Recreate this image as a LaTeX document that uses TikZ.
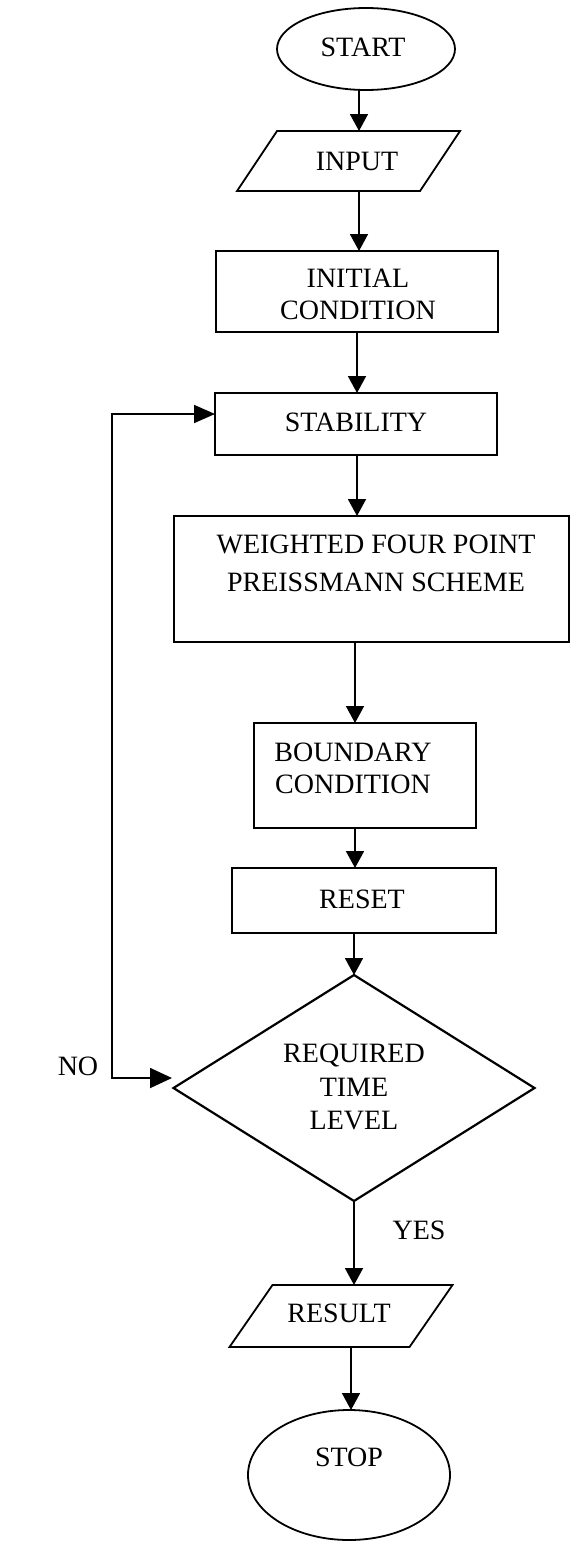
\documentclass[tikz,border=0pt]{standalone}
\usepackage{fontspec}
\setmainfont{Liberation Serif}
\usetikzlibrary{arrows.meta,shapes.geometric,calc}

\tikzset{
  every node/.style={inner sep=0pt, outer sep=0pt},
  shp/.style={draw, line width=1.8pt},
  term/.style={shp, ellipse},
  proc/.style={shp, rectangle},
  % parallelogram: the node is its middle band, the outline is slanted by #1
  io/.style={rectangle, append after command={
      \pgfextra{\draw[line width=1.8pt, line join=miter]
        ($(\tikzlastnode.south west)+(-#1,0)$) --
        ($(\tikzlastnode.north west)+(#1,0)$) --
        ($(\tikzlastnode.north east)+(#1,0)$) --
        ($(\tikzlastnode.south east)+(-#1,0)$) -- cycle;}}},
  dec/.style={shp, diamond, line width=2.2pt},
  txt/.style={align=center, font=\fontsize{28}{32}\selectfont},
  flow/.style={line width=1.8pt, -{Triangle[width=18pt,length=17pt]}},
  back/.style={line width=1.8pt,
    {Triangle[width=20pt,length=22pt]}-{Triangle[width=18pt,length=21pt]}},
}

\begin{document}
\begin{tikzpicture}[x=1pt, y=-1pt]
\useasboundingbox (0,0) rectangle (571,1542);

% shapes of the flow chart
\node[term, minimum width=178pt, minimum height=82pt] (start) at (366,49) {};
\node[txt] (startT) at (363,47) {START};

\node[io=20, minimum width=183pt, minimum height=60pt] (input) at (348.5,161) {};
\node[txt] (inputT) at (357,161) {INPUT};

\node[proc, minimum width=282pt, minimum height=81pt] (init) at (357,291.5) {};
\node[txt] (initT) at (358,294) {INITIAL\\CONDITION};

\node[proc, minimum width=282pt, minimum height=62pt] (stab) at (356,424) {};
\node[txt] (stabT) at (356,422) {STABILITY};

\node[proc, minimum width=395pt, minimum height=126pt] (wfp) at (371.5,579) {};
\node[txt, font=\fontsize{28}{38}\selectfont] (wfpT) at (376,563)
  {WEIGHTED FOUR POINT\\PREISSMANN SCHEME};

\node[proc, minimum width=222pt, minimum height=105pt] (bnd) at (365,775.5) {};
\node[txt] (bndT) at (353,768) {BOUNDARY\\CONDITION};

\node[proc, minimum width=264pt, minimum height=65pt] (rst) at (364,900.5) {};
\node[txt] (rstT) at (362,899) {RESET};

\node[dec, minimum width=361pt, minimum height=226pt] (dia) at (354,1088) {};
\node[txt, font=\fontsize{28}{33.5}\selectfont] (diaT) at (354,1087)
  {REQUIRED\\TIME\\LEVEL};

\node[io=21.5, minimum width=180pt, minimum height=62pt] (res) at (341,1316) {};
\node[txt] (resT) at (339,1313) {RESULT};

\node[term, minimum width=202pt, minimum height=130pt] (stop) at (349,1475) {};
\node[txt] (stopT) at (349,1457) {STOP};

% branch labels
\node[txt] (no) at (78,1066) {NO};
\node[txt] (yes) at (419,1230) {YES};

% columns of the vertical connectors
\coordinate (c1) at (359,0);
\coordinate (c2) at (357,0);
\coordinate (c3) at (355,0);
\coordinate (c4) at (351,0);

\draw[flow] (start.south -| c1) -- (input.north -| c1);
\draw[flow] (input.south -| c1) -- (init.north -| c1);
\draw[flow] (init.south -| c2) -- (stab.north -| c2);
\draw[flow] (stab.south -| c2) -- (wfp.north -| c2);
\draw[flow] (wfp.south -| c3) -- (bnd.north -| c3);
\draw[flow] (bnd.south -| c3) -- (rst.north -| c3);
\draw[flow] (rst.south -| dia.north) -- (dia.north);
\draw[flow] (dia.south) -- (res.north -| dia.south);
\draw[flow] (res.south -| c4) -- (stop.north -| c4);

% return path of the time loop
\coordinate (dtip) at (172,1078);
\coordinate (loopx) at (112,0);
\draw[back] (dtip) -- (dtip -| loopx) |- ($(stab.west)+(0,-10)$);
\end{tikzpicture}
\end{document}
